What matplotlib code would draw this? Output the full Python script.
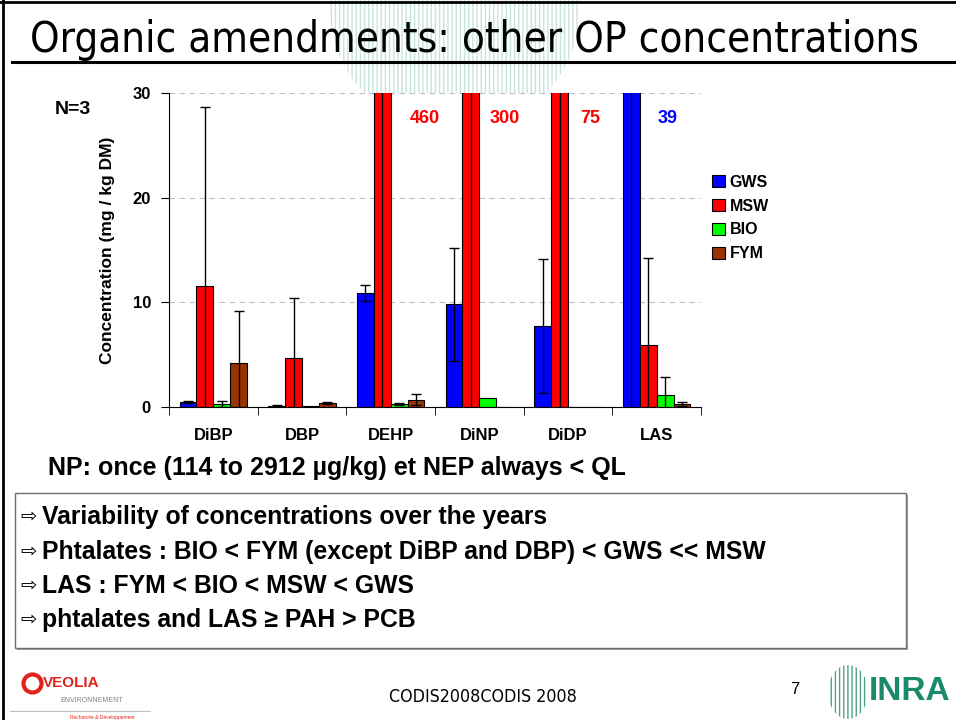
import matplotlib
matplotlib.use("Agg")
import matplotlib.pyplot as plt
import numpy as np
from matplotlib import font_manager
from matplotlib.font_manager import FontProperties
from matplotlib.patches import Rectangle, Ellipse
from matplotlib.lines import Line2D

# data
compounds = ["DiBP", "DBP", "DEHP", "DiNP", "DiDP", "LAS"]
series = ["GWS", "MSW", "BIO", "FYM"]
colors = ["#0000FF", "#FF0000", "#00FF00", "#993300"]
gws = [0.5, 0.1, 10.9, 9.8, 7.7, 39]
msw = [11.6, 4.7, 460, 300, 75, 5.9]
bio = [0.3, 0.05, 0.3, 0.85, 0, 1.1]
fym = [4.2, 0.35, 0.7, 0, 0, 0.3]
gws_err = [0.1, 0.05, 0.8, 5.4, 6.4, 40]
msw_err = [17.1, 5.7, 500, 320, 80, 8.3]
bio_err = [0.3, 0, 0.1, 0, 0, 1.8]
fym_err = [5.0, 0.1, 0.5, 0, 0, 0.2]
offscale = ["460", "300", "75", "39"]
offscale_x = [2.39, 3.29, 4.25, 5.12]
offscale_col = ["#FF0000", "#FF0000", "#FF0000", "#0000FF"]
conclusions = [
    "Variability of concentrations over the years",
    "Phtalates : BIO < FYM (except DiBP and DBP) < GWS << MSW",
    "LAS : FYM < BIO < MSW < GWS",
    "phtalates and LAS \u2265 PAH > PCB",
]

# look for a condensed face for the title, otherwise plain Liberation Sans
narrow_file = None
for f in font_manager.fontManager.ttflist:
    if ("Narrow" in f.name or "Condensed" in f.name or "condensed" in str(f.stretch)) \
            and f.weight in (400, "normal", "regular") and f.style == "normal":
        narrow_file = f.fname
        break
title_fp = FontProperties(fname=narrow_file) if narrow_file else FontProperties(family="Liberation Sans")

plt.rcParams["font.family"] = ["Liberation Sans", "DejaVu Sans"]

W, H = 956, 720
fig = plt.figure(figsize=(W / 100, H / 100), dpi=100)


def px(x, y):
    return x / W, 1 - y / H


# watermark and slide frame
fig.add_artist(Ellipse(px(455, 10), 250 / W, 240 / H, transform=fig.transFigure,
                       facecolor="none", edgecolor="#c6e3de", hatch="||||", lw=0, zorder=0))
fig.add_artist(Line2D([3 / W, 3 / W], [0, 1], color="black", lw=2))
fig.add_artist(Line2D([0, 1], [1 - 2 / H, 1 - 2 / H], color="black", lw=2))
fig.add_artist(Line2D([12 / W, 1], [1 - 62 / H, 1 - 62 / H], color="black", lw=2.2))
title = fig.text(*px(30, 40), "Organic amendments: other OP concentrations",
                 fontproperties=title_fp, fontsize=26, va="center", ha="left")

# chart
ax = fig.add_axes([169 / W, 1 - 407 / H, 532 / W, 314 / H])
x = np.arange(len(compounds))
w = 0.19
vals = [gws, msw, bio, fym]
errs = [gws_err, msw_err, bio_err, fym_err]
for i, (name, col) in enumerate(zip(series, colors)):
    xs = x + (i - 1.5) * w
    ax.bar(xs, vals[i], w, color=col, edgecolor="black", lw=0.8, label=name, zorder=2)
    for xx, v, e in zip(xs, vals[i], errs[i]):
        if e > 0:
            ax.errorbar(xx, v, yerr=e, fmt="none", ecolor="black", elinewidth=1.0,
                        capsize=3.5, capthick=1.0, zorder=3)

ax.set_ylim(0, 30)
ax.set_xlim(-0.5, len(compounds) - 0.5)
ax.set_yticks([0, 10, 20, 30])
ax.set_yticklabels(["0", "10", "20", "30"], fontweight="bold", fontsize=12)
ax.set_xticks(x)
ax.set_xticklabels(compounds, fontweight="bold", fontsize=12)
ax.set_xticks(np.arange(-0.5, len(compounds)), minor=True)
ax.tick_params(axis="x", which="major", length=0, pad=15)
ax.tick_params(axis="x", which="minor", length=6, direction="out")
ax.tick_params(axis="y", length=6, direction="out", pad=7)
for s in ["top", "right"]:
    ax.spines[s].set_visible(False)
ax.yaxis.grid(True, ls=(0, (5, 4)), color="#c0c0c0", lw=0.8, zorder=0)
ax.set_axisbelow(True)
ax.set_ylabel("Concentration (mg / kg DM)", fontweight="bold", fontsize=12.5)
ax.yaxis.set_label_coords(-0.1015, 0.5)

for t, xx, c in zip(offscale, offscale_x, offscale_col):
    ax.text(xx, 27.6, t, color=c, fontweight="bold", fontsize=13, ha="center", va="center")

ax.legend(loc="upper left", bbox_to_anchor=(1.0, 0.775), frameon=False,
          prop={"weight": "bold", "size": 11.5}, handlelength=0.8, handleheight=0.8,
          handletextpad=0.3, labelspacing=0.55, borderaxespad=0.3)

fig.text(*px(55, 110), "N=3", fontweight="bold", fontsize=14, va="center")
fig.text(*px(48, 468), "NP: once (114 to 2912 \u00b5g/kg) et NEP always < QL",
         fontweight="bold", fontsize=18, va="center")

# conclusion box
fig.add_artist(Rectangle(px(17, 650), 891 / W, 155 / H, transform=fig.transFigure,
                         facecolor="#a0a0a0", edgecolor="none", zorder=1))
fig.add_artist(Rectangle(px(15, 648), 891 / W, 155 / H, transform=fig.transFigure,
                         facecolor="white", edgecolor="#707070", lw=1, zorder=2))
for k, line in enumerate(conclusions):
    yy = [517, 552, 586, 620][k]
    fig.text(*px(20, yy), "\u21e8", family=["DejaVu Sans"], fontsize=14, va="center", zorder=3)
    fig.text(*px(42, yy), line, fontweight="bold", fontsize=17.8, va="center", zorder=3)

# footer
fig.text(*px(483, 697), "CODIS2008CODIS 2008", fontproperties=title_fp, fontsize=12.8,
         ha="center", va="center")
fig.text(*px(795, 690), "7", fontsize=12, ha="center", va="center")
fig.add_artist(Line2D([px(32, 0)[0]], [px(0, 683)[1]], marker="o", ms=13, mfc="white",
                      mec="#e2231a", mew=3, transform=fig.transFigure))
fig.text(*px(43, 683), "VEOLIA", color="#e2231a", fontweight="bold", fontsize=11, va="center")
fig.text(*px(60, 701), "ENVIRONNEMENT", color="#808080", fontsize=5, va="center")
fig.add_artist(Line2D([10 / W, 150 / W], [1 - 711 / H] * 2, color="#c0c0c0", lw=0.8))
fig.text(*px(70, 717), "Recherche & D\u00e9veloppement", color="#e2231a", fontsize=3.5, va="center")
fig.add_artist(Ellipse(px(848, 692), 40 / W, 54 / H, transform=fig.transFigure,
                       facecolor="none", edgecolor="#4f9f8a", hatch="||||", lw=0))
fig.text(*px(869, 692), "INRA", color="#1b8a6b", fontweight="bold", fontsize=24,
         va="center")

# fit the title to the width it takes on the slide (30 -> 920 px)
fig.canvas.draw()
bb = title.get_window_extent()
title.set_fontsize(26 * 890 / bb.width)

fig.savefig("out.png", dpi=100)
